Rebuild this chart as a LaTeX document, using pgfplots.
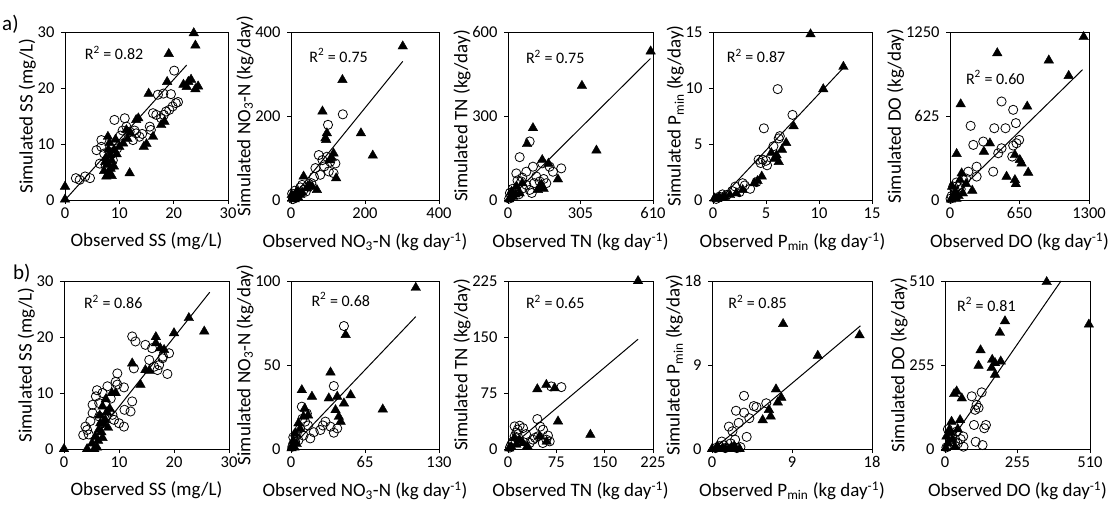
\documentclass[border=0pt]{standalone}
\usepackage{pgfplots}
\pgfplotsset{compat=1.18}
\usepackage{fontspec}
\setmainfont{Carlito}
\tikzset{rsq/.style={font=\fontsize{16}{18}\selectfont, anchor=west}}
\pgfplotsset{
  pan/.style={
    scale only axis, height=168pt, anchor=north west,
    axis line style={line width=0.9pt},
    every tick/.style={black, line width=0.8pt},
    tick align=outside, major tick length=4pt,
    xtick pos=bottom, ytick pos=left,
    tick label style={font=\fontsize{16.5}{18}\selectfont},
    yticklabel style={xshift=-3pt},
    label style={font=\fontsize{19}{21}\selectfont},
    xlabel style={at={(axis description cs:0.5,0)}, anchor=north, yshift=-29pt},
    ylabel style={yshift=-5pt},
    scaled ticks=false,
    /pgf/number format/assume math mode=true,
    /pgf/number format/1000 sep={},
    clip=false,
  },
  circ/.style={only marks, mark=o, mark size=4.6pt, mark options={black, line width=0.8pt}},
  tri/.style={only marks, mark=triangle*, mark size=5.5pt, mark options={black, fill=black}},
  fit/.style={black, line width=1pt, no marks},
}
\begin{document}
\begin{tikzpicture}
\useasboundingbox (0,-505pt) rectangle (1108pt,0);
\node[font=\fontsize{21}{23}\selectfont, anchor=west, inner sep=0] at (2pt,-24pt) {a)};
\node[font=\fontsize{21}{23}\selectfont, anchor=west, inner sep=0] at (13pt,-273pt) {b)};

% ---------- a1 ----------
\begin{axis}[pan, at={(65pt,-32pt)}, width=163pt,
  xmin=0, xmax=30, ymin=0, ymax=30, xtick={0,10,20,30}, ytick={0,10,20,30},
  xlabel={Observed SS (mg/L)}, ylabel={Simulated SS (mg/L)}]
\addplot[circ] coordinates {(2,3.9)(2.7,3.6)(3.7,4.2)(4.6,3.9)(5.8,8.9)(6.7,9.5)(6.4,6.5)(6.7,10.7)(9.1,14.3)(11,14.6)(11.3,13.1)(11.9,12.2)(13.1,11.9)(13.7,11.3)(12.5,10.7)(15.6,13.1)(16.2,15.5)(16.8,15.2)(17.1,18.8)(18.1,19)(18.6,15.8)(19.2,16.1)(19.8,16.7)(20.4,17.3)(20.1,23.1)(15.8,12.5)(17.7,14.6)(18.2,15.2)(8.2,7.7)(8.5,6)(8.8,7.1)(7.2,8.3)(10.2,11.5)(14.2,11.8)(12.8,12.4)(20.8,17.5)(19.5,18.9)(7.5,6)(9.6,9.2)(10.6,12.4)};
\addplot[tri] coordinates {(0,2.4)(0,0.1)(23.7,29.8)(24,27.6)(19.1,26.1)(18.8,21.1)(22.7,21.1)(22.4,20.2)(24,19.8)(23.2,21.5)(24.5,20.3)(21.8,20.6)(15.4,19)(17.7,13.4)(16.2,11.3)(14.5,9.5)(15,10)(11.9,4.8)(8.2,4.5)(7.6,4.2)(8.6,4.3)(13.1,14.3)(11.3,12.5)(10.7,10.1)(9.1,8.9)(7.9,11.3)(8,9)(8.3,8)(7.5,7.5)(8.6,7)(7.8,6.3)(8.4,5.6)(7.2,5.2)(9,6)(9.5,8.2)(10,9.5)(8.2,10.2)(12,12)(13.5,14.6)(9.3,10.8)(7.4,6.8)(8.1,5)(11.5,10.9)(18.3,14)};
\addplot[fit] coordinates {(0,0)(22.4,24.1)};
\node[rsq] at (rel axis cs:0.10,0.875) {R\textsuperscript{2} = 0.82};
\end{axis}

% ---------- a2 ----------
\begin{axis}[pan, at={(291pt,-32pt)}, width=148pt,
  xmin=0, xmax=400, ymin=0, ymax=400, xtick={0,200,400}, ytick={0,200,400},
  xlabel={Observed NO\textsubscript{3}-N (kg day\textsuperscript{-1})}, ylabel={Simulated NO\textsubscript{3}-N (kg/day)}]
\addplot[circ] coordinates {(140,204)(100,179)(75,107)(66,76)(79,60)(102,68)(106,91)(120,87)(97,103)(30,36)(48,32)(21,16)(7,8)(34,24)(115,64)(5,2)(12,5)(18,10)(40,20)(55,40)(90,80)(62,55)(25,30)(3,15)(10,22)(85,95)};
\addplot[tri] coordinates {(302,366)(139,286)(85,211)(189,159)(221,106)(97,159)(95,143)(93,147)(122,52)(115,111)(34,56)(57,32)(70,24)(16,20)(7,8)(25,12)(43,28)(3,3)(10,2)(20,5)(30,18)(50,35)(105,95)(110,100)(2,12)(12,15)};
\addplot[fit] coordinates {(0,2)(302,330)};
\node[rsq] at (rel axis cs:0.10,0.86) {R\textsuperscript{2} = 0.75};
\end{axis}

% ---------- a3 ----------
\begin{axis}[pan, at={(508pt,-32pt)}, width=145pt,
  xmin=0, xmax=610, ymin=0, ymax=600, xtick={0,305,610}, ytick={0,300,600},
  xlabel={Observed TN (kg day\textsuperscript{-1})}, ylabel={Simulated TN (kg/day)}]
\addplot[circ] coordinates {(91,209)(49,153)(35,95)(77,101)(105,119)(144,131)(175,119)(224,113)(189,101)(119,84)(133,66)(91,36)(63,42)(14,18)(28,30)(56,66)(161,60)(77,54)(5,5)(20,40)(40,70)(60,80)(100,25)(150,75)(110,60)(8,25)(45,20)};
\addplot[tri] coordinates {(600,531)(311,408)(372,177)(105,257)(80,200)(144,143)(210,74)(133,48)(126,36)(21,12)(49,24)(35,48)(5,3)(15,30)(60,60)(150,40)(140,55)(10,8)(30,20)(170,130)};
\addplot[fit] coordinates {(0,0)(599,505)};
\node[rsq] at (rel axis cs:0.10,0.85) {R\textsuperscript{2} = 0.75};
\end{axis}

% ---------- a4 ----------
\begin{axis}[pan, at={(713pt,-32pt)}, width=159pt,
  xmin=0, xmax=15, ymin=0, ymax=15, xtick={0,5,10,15}, ytick={0,5,10,15},
  xlabel={Observed P\textsubscript{min} (kg day\textsuperscript{-1})}, ylabel={Simulated P\textsubscript{min} (kg/day)}]
\addplot[circ] coordinates {(6.1,9.9)(7.5,7.6)(4.8,6.4)(6.3,5.7)(6.2,5.5)(4.3,3.6)(4.7,3.6)(5.1,3.1)(5.7,4.8)(4.1,1.6)(3,1.3)(2.1,1.2)(2.5,0.7)(1.3,0.45)(0.6,0.3)(0.3,0.1)(2.8,1.5)(4.5,3.3)(1.8,0.8)(0.9,0.5)(3.5,1.0)(5,3.5)};
\addplot[tri] coordinates {(9.2,14.8)(12.3,11.9)(10.4,9.9)(7.6,6.6)(6.9,5.1)(6.5,4.5)(6.2,3.4)(4.6,2.1)(3.9,1.5)(2.8,0.9)(1.6,0.45)(0.6,0.24)(0.15,0.15)(1.1,0.3)(5.8,3.7)(6,4)(2.2,0.6)(0.4,0.1)(0.9,0.2)(5.5,4.2)(4.2,1.7)};
\addplot[fit] coordinates {(0.6,0)(12.3,11.8)};
\node[rsq] at (rel axis cs:0.065,0.857) {R\textsuperscript{2} = 0.87};
\end{axis}

% ---------- a5 ----------
\begin{axis}[pan, at={(950pt,-32pt)}, width=139pt,
  xmin=0, xmax=1300, ymin=0, ymax=1250, xtick={0,650,1300}, ytick={0,625,1250},
  xlabel={Observed DO (kg day\textsuperscript{-1})}, ylabel={Simulated DO (kg/day)}]
\addplot[circ] coordinates {(482,733)(591,671)(193,552)(414,534)(519,534)(616,572)(311,435)(218,410)(647,447)(622,422)(591,405)(482,385)(451,348)(582,323)(404,211)(249,174)(249,248)(171,211)(124,149)(93,112)(45,75)(15,30)(70,40)(30,100)(100,80)(150,160)(5,10)(60,130)};
\addplot[tri] coordinates {(1250,1213)(442,1093)(924,1039)(1110,924)(100,713)(722,696)(62,343)(317,360)(373,422)(607,335)(653,298)(669,273)(731,204)(529,174)(607,149)(616,119)(208,70)(109,199)(93,149)(50,60)(30,20)(80,30)(120,50)(20,100)(150,120)(10,5)(60,10)};
\addplot[fit] coordinates {(0,5)(1240,970)};
\node[rsq] at (rel axis cs:0.09,0.73) {R\textsuperscript{2} = 0.60};
\end{axis}

% ---------- b1 ----------
\begin{axis}[pan, at={(64pt,-281pt)}, width=165pt,
  xmin=0, xmax=30, ymin=0, ymax=30, xtick={0,10,20,30}, ytick={0,10,20,30},
  xlabel={Observed SS (mg/L)}, ylabel={Simulated SS (mg/L)}]
\addplot[circ] coordinates {(12.4,20.1)(13,19.2)(14.8,18.6)(16,18)(19.1,17.1)(17.9,16.2)(17.3,15)(15.5,15.9)(17,14.1)(18.8,13.4)(12.7,14.4)(9.7,13.5)(9.4,12)(10.9,11)(9.7,11.5)(7.9,11.2)(7,10)(5.8,9.4)(5.2,7.9)(6.4,8.2)(5.2,6.4)(4.2,3.4)(4.5,2.6)(3.9,4)(8.2,6.7)(8.8,6.1)(9.1,5.2)(10,4.6)(10.9,4)(12.4,8.5)(12.1,6.7)(6.4,5.8)(7,4.6)(3.5,2.5)(4.8,5)(8.5,9)(18,16.5)(16.4,14.7)(11,7)(6,10.5)};
\addplot[tri] coordinates {(0,0)(25.5,21)(22.7,23.4)(20,20.7)(16.7,20)(16.7,18.9)(18.2,17.7)(12.4,15.3)(14.8,14.1)(13.9,11.5)(9.4,10)(8.7,10)(7.6,8.9)(7,7.6)(6.5,6)(7.2,4.5)(6.8,3)(5.5,0)(6,0.3)(4.2,0)(5.1,1)(5.7,2.2)(6.3,3.4)(6.6,4.6)(7.8,6.6)(8.3,7.2)(17.5,18)(15.5,14)(7.5,5.2)(6.2,1.5)(7,2)(8,3.8)};
\addplot[fit] coordinates {(3.9,0)(26.5,28)};
\node[rsq] at (rel axis cs:0.10,0.875) {R\textsuperscript{2} = 0.86};
\end{axis}

% ---------- b2 ----------
\begin{axis}[pan, at={(291pt,-281pt)}, width=148pt,
  xmin=0, xmax=130, ymin=0, ymax=100, xtick={0,65,130}, ytick={0,50,100},
  xlabel={Observed NO\textsubscript{3}-N (kg day\textsuperscript{-1})}, ylabel={Simulated NO\textsubscript{3}-N (kg/day)}]
\addplot[circ] coordinates {(46.5,73.2)(37.6,37.5)(9.5,25.2)(13.9,21.2)(12.4,16.3)(16.9,6.3)(25.8,11.3)(30.2,16.3)(34.7,13.3)(37.6,9.7)(40.6,12.3)(5,9.3)(8,12.3)(3.6,4.3)(1.2,1.4)(6.5,5.2)(10,18)(15,14)(28,14)(2,7)(20,10)(11,8)};
\addplot[tri] coordinates {(109.6,96)(48,67.9)(34.7,45.6)(9.5,35.1)(18.4,31.2)(52.4,32.1)(40.6,31.2)(33.2,30.2)(46.5,27.2)(39.1,23.2)(80.6,23.6)(42,19.2)(43.6,16.3)(11,19.2)(6.5,15.3)(3.6,9.3)(2,5)(1,2)(5,3)(8,12)(12,24)(15,20)(0.5,0.5)(3,1)};
\addplot[fit] coordinates {(0,0.8)(109.6,78.8)};
\node[rsq] at (rel axis cs:0.115,0.89) {R\textsuperscript{2} = 0.68};
\end{axis}

% ---------- b3 ----------
\begin{axis}[pan, at={(508pt,-281pt)}, width=145pt,
  xmin=0, xmax=225, ymin=0, ymax=225, xtick={0,75,150,225}, ytick={0,75,150,225},
  xlabel={Observed TN (kg day\textsuperscript{-1})}, ylabel={Simulated TN (kg/day)}]
\addplot[circ] coordinates {(67,83.8)(82.8,82.9)(45.5,40.1)(10.3,30.3)(18,31.2)(23.3,28)(54.3,25.8)(46.6,17)(38.8,12.5)(59.5,12.5)(64.7,10.2)(33.6,8)(18,10.2)(5,5.8)(10.3,17)(13,22)(54,8)(3,2)(8,10)(28,20)(50,30)(42,15)(15,26)(62,18)};
\addplot[tri] coordinates {(201.8,225)(59.5,86)(45.5,80.2)(72.4,81.6)(77.6,37)(127.8,19.2)(49,17)(23,8)(5,3)(13,6)(18,12)(2,1)(30,4)(60,10)(10,15)};
\addplot[fit] coordinates {(0,0)(201.8,147)};
\node[rsq] at (rel axis cs:0.10,0.875) {R\textsuperscript{2} = 0.65};
\end{axis}

% ---------- b4 ----------
\begin{axis}[pan, at={(712pt,-281pt)}, width=160pt,
  xmin=0, xmax=18, ymin=0, ymax=18, xtick={0,9,18}, ytick={0,9,18},
  xlabel={Observed P\textsubscript{min} (kg day\textsuperscript{-1})}, ylabel={Simulated P\textsubscript{min} (kg/day)}]
\addplot[circ] coordinates {(3.6,5.7)(4.7,4.6)(6.1,4.9)(2.7,4.1)(3.6,3.9)(4.2,3.3)(3,2.8)(1.9,2.4)(2.3,1.9)(3.9,1.3)(1.1,0.8)(2.1,0.6)(0.4,0.1)(1.5,0.1)(2.8,0.1)(3.2,0.2)(0.8,0.3)(5,4.5)(2.6,1.0)(1.3,0.4)};
\addplot[tri] coordinates {(8,13.4)(16.6,12.2)(11.9,10)(7.2,6.4)(7.8,5.5)(7.4,5)(6.4,4.2)(6.6,3.5)(5.7,3.1)(1.5,0)(2.7,0)(0,0)(0.8,0)(1.9,0)(3.1,0)(0.6,0.3)(2.2,0.2)(1.2,0.1)(2.5,0.3)};
\addplot[fit] coordinates {(0.2,0)(16.7,13.2)};
\node[rsq] at (rel axis cs:0.08,0.875) {R\textsuperscript{2} = 0.85};
\end{axis}

% ---------- b5 ----------
\begin{axis}[pan, at={(945pt,-281pt)}, width=145pt,
  xmin=0, xmax=510, ymin=0, ymax=510, xtick={0,255,510}, ytick={0,255,510},
  xlabel={Observed DO (kg day\textsuperscript{-1})}, ylabel={Simulated DO (kg/day)}]
\addplot[circ] coordinates {(94,160)(129,172)(111,134)(106,119)(118,125)(102,73)(144,73)(138,63)(108,22)(132,12)(64,38)(41,53)(35,22)(15,12)(45,17)(65,7)(5,5)(25,40)(55,30)(30,70)(20,28)(10,60)};
\addplot[tri] coordinates {(357.6,507)(506,378)(211,388)(193,353)(125,300)(118,253)(166,271)(176,261)(164,246)(196,266)(176,226)(41,175)(32,167)(59,154)(53,88)(23,83)(15,58)(5,38)(25,28)(10,17)(35,7)(3,3)(20,50)(45,60)};
\addplot[fit] coordinates {(0,0)(408,510)};
\node[rsq] at (rel axis cs:0.06,0.86) {R\textsuperscript{2} = 0.81};
\end{axis}
\end{tikzpicture}
\end{document}
